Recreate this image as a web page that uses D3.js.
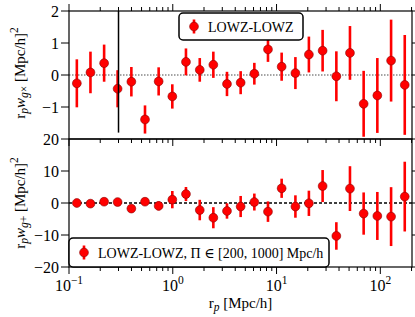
<!DOCTYPE html>
<html>
<head>
<meta charset="utf-8">
<script src="https://cdn.jsdelivr.net/npm/d3@7"></script>
<style>
  body { margin: 0; background: #fff; }
  svg { display: block; font-family: "Liberation Serif", "DejaVu Serif", serif; }
</style>
</head>
<body>
<div id="chart"></div>
<script>
// bin centres in Mpc/h
const rp = [0.119, 0.161, 0.218, 0.294, 0.399, 0.540, 0.731, 0.990, 1.34, 1.82,
            2.46, 3.33, 4.51, 6.11, 8.27, 11.2, 15.2, 20.5, 27.8, 37.7,
            51.0, 69.1, 93.6, 127, 172];

// top panel: r_p w_gx
const wgx = [-0.26, 0.08, 0.37, -0.43, -0.21, -1.39, -0.20, -0.67, 0.41, 0.16,
             0.32, -0.28, -0.24, 0.04, 0.80, 0.26, 0.06, 0.64, 0.76, -0.04,
             0.69, -0.90, -0.64, 0.45, -0.31];
const wgxErr = [0.75, 0.65, 0.58, 0.58, 0.46, 0.44, 0.44, 0.38, 0.42, 0.37,
                0.41, 0.38, 0.36, 0.34, 0.39, 0.44, 0.50, 0.56, 0.65, 0.78,
                0.84, 1.03, 1.17, 1.28, 1.56];

// bottom panel: r_p w_g+
const wgp = [0.0, -0.2, 0.4, 0.3, -1.75, 0.4, -0.9, 1.05, 2.8, -2.2,
             -4.6, -2.5, -1.1, 0.3, -2.7, 4.6, -1.1, -0.1, 5.3, -10.3,
             4.5, -3.3, -4.05, -4.25, 2.0];
const wgpErr = [0.3, 0.3, 0.4, 0.4, 1.2, 0.4, 1.4, 2.7, 2.2, 3.2,
                3.3, 2.4, 3.3, 2.65, 3.2, 3.0, 3.5, 3.95, 5.0, 4.3,
                7.0, 6.6, 7.5, 9.2, 10.9];

const xTicks = [0.1, 1, 10, 100];
const xTickExp = ['\u22121', '0', '1', '2'];
const topTicks = [2, 1, 0, -1];
const topTickLabels = ['2', '1', '0', '\u22121'];
const botTicks = [20, 10, 0, -10, -20];
const botTickLabels = ['20', '10', '0', '\u221210', '\u221220'];
const cutR = 0.3;

const width = 415, height = 317;
const L = 69, R = 412, T = 11, M = 139, B = 267;

const svg = d3.select('#chart').append('svg')
    .attr('width', width)
    .attr('height', height);

const x = d3.scaleLog().domain([0.1, 202]).range([L, R]);
const yTop = d3.scaleLinear().domain([-2, 2]).range([M, T]);
const yBot = d3.scaleLinear().domain([-20, 20]).range([B, M]);

const minorTicks = [];
[0.1, 1, 10, 100].forEach(dec => {
    for (let k = 2; k <= 9; k++) {
        const v = dec * k;
        if (v < 202) minorTicks.push(v);
    }
});

svg.append('defs').selectAll('clipPath')
    .data([['clipTop', T, M], ['clipBot', M, B]])
    .enter().append('clipPath')
    .attr('id', d => d[0])
    .append('rect')
    .attr('x', L).attr('y', d => d[1])
    .attr('width', R - L).attr('height', d => d[2] - d[1]);

function drawPanel(y, vals, errs, clipId, zeroStyle) {
    const g = svg.append('g').attr('clip-path', `url(#${clipId})`);

    g.append('line')
        .attr('x1', L).attr('x2', R)
        .attr('y1', y(0)).attr('y2', y(0))
        .attr('stroke', zeroStyle.color)
        .attr('stroke-width', 1.5)
        .attr('stroke-dasharray', zeroStyle.dash);

    g.selectAll('.err')
        .data(rp)
        .enter().append('line')
        .attr('x1', d => x(d)).attr('x2', d => x(d))
        .attr('y1', (d, i) => y(vals[i] + errs[i]))
        .attr('y2', (d, i) => y(vals[i] - errs[i]))
        .attr('stroke', '#ff0000')
        .attr('stroke-width', 2.6);

    g.selectAll('.pt')
        .data(rp)
        .enter().append('circle')
        .attr('cx', d => x(d))
        .attr('cy', (d, i) => y(vals[i]))
        .attr('r', 4.4)
        .attr('fill', '#ff0000')
        .attr('stroke', '#8a0000')
        .attr('stroke-width', 0.6);
    return g;
}

const gTop = drawPanel(yTop, wgx, wgxErr, 'clipTop', {color: '#888', dash: '1.5,1.5'});
drawPanel(yBot, wgp, wgpErr, 'clipBot', {color: '#000', dash: '3,2'});

// scale cut line in top panel
gTop.append('line')
    .attr('x1', x(cutR)).attr('x2', x(cutR))
    .attr('y1', yTop(2)).attr('y2', yTop(-1.8))
    .attr('stroke', '#000')
    .attr('stroke-width', 1.5);

// frames
[[T, M], [M, B]].forEach(([a, b]) => {
    svg.append('rect')
        .attr('x', L).attr('y', a)
        .attr('width', R - L).attr('height', b - a)
        .attr('fill', 'none')
        .attr('stroke', '#000')
        .attr('stroke-width', 1.2);
});

// x ticks (outward) on top, middle and bottom edges
function xTickRow(yPos, dir) {
    svg.append('g').selectAll('line')
        .data(xTicks.concat(minorTicks))
        .enter().append('line')
        .attr('x1', d => x(d)).attr('x2', d => x(d))
        .attr('y1', yPos)
        .attr('y2', d => yPos + dir * (xTicks.includes(d) ? 7 : 4))
        .attr('stroke', '#000')
        .attr('stroke-width', 1);
}
xTickRow(T, -1);
xTickRow(M, 1);
xTickRow(B, 1);

// y ticks
function yTickCol(y, ticks, labels) {
    const g = svg.append('g');
    g.selectAll('.l').data(ticks).enter().append('line')
        .attr('x1', L - 8).attr('x2', L)
        .attr('y1', d => y(d)).attr('y2', d => y(d))
        .attr('stroke', '#000');
    g.selectAll('.r').data(ticks).enter().append('line')
        .attr('x1', R).attr('x2', R + 8)
        .attr('y1', d => y(d)).attr('y2', d => y(d))
        .attr('stroke', '#000');
    g.selectAll('text').data(ticks).enter().append('text')
        .attr('x', L - 10)
        .attr('y', d => y(d) + 5.5)
        .attr('text-anchor', 'end')
        .attr('font-size', 16)
        .text((d, i) => labels[i]);
}
yTickCol(yTop, topTicks, topTickLabels);
yTickCol(yBot, botTicks, botTickLabels);

// x tick labels 10^n
const xl = svg.append('g').selectAll('text')
    .data(xTicks)
    .enter().append('text')
    .attr('x', d => x(d))
    .attr('y', 291)
    .attr('text-anchor', 'middle')
    .attr('font-size', 16);
xl.append('tspan').text('10');
xl.append('tspan')
    .attr('dy', -7)
    .attr('font-size', 11.5)
    .text((d, i) => xTickExp[i]);

// axis labels
function yLabel(cy, sub) {
    const t = svg.append('text')
        .attr('transform', `translate(25,${cy}) rotate(-90)`)
        .attr('text-anchor', 'middle')
        .attr('font-size', 15);
    t.append('tspan').text('r');
    t.append('tspan').attr('dy', 3).attr('font-size', 11.5).attr('font-style', 'italic').text('p');
    t.append('tspan').attr('dy', -3).attr('font-style', 'italic').text('w');
    t.append('tspan').attr('dy', 3).attr('font-size', 11.5).attr('font-style', 'italic').text('g');
    t.append('tspan').attr('font-size', 11.5).text(sub);
    t.append('tspan').attr('dy', -3).text(' [Mpc/h]');
    t.append('tspan').attr('dy', -7).attr('font-size', 11.5).text('2');
}
yLabel(73, '\u00d7');
yLabel(203, '+');

const xt = svg.append('text')
    .attr('x', (L + R) / 2)
    .attr('y', 308)
    .attr('text-anchor', 'middle')
    .attr('font-size', 15);
xt.append('tspan').text('r');
xt.append('tspan').attr('dy', 3).attr('font-size', 11.5).attr('font-style', 'italic').text('p');
xt.append('tspan').attr('dy', -3).text(' [Mpc/h]');

// legends
function legend(x0, y0, w, h, label) {
    const g = svg.append('g');
    g.append('rect')
        .attr('x', x0).attr('y', y0)
        .attr('width', w).attr('height', h)
        .attr('rx', 4)
        .attr('fill', '#fff')
        .attr('stroke', '#000')
        .attr('stroke-width', 1.5);
    const mx = x0 + 15, my = y0 + h / 2;
    g.append('line')
        .attr('x1', mx).attr('x2', mx)
        .attr('y1', my - 7).attr('y2', my + 7)
        .attr('stroke', '#ff0000').attr('stroke-width', 2.6);
    g.append('circle')
        .attr('cx', mx).attr('cy', my).attr('r', 4.4)
        .attr('fill', '#ff0000').attr('stroke', '#8a0000').attr('stroke-width', 0.6);
    g.append('text')
        .attr('x', x0 + 29).attr('y', my + 5)
        .attr('font-size', 14)
        .text(label);
}
legend(179, 13, 124, 27, 'LOWZ-LOWZ');
legend(69, 238, 260, 29, 'LOWZ-LOWZ, \u03a0 \u2208 [200, 1000] Mpc/h');
</script>
</body>
</html>
